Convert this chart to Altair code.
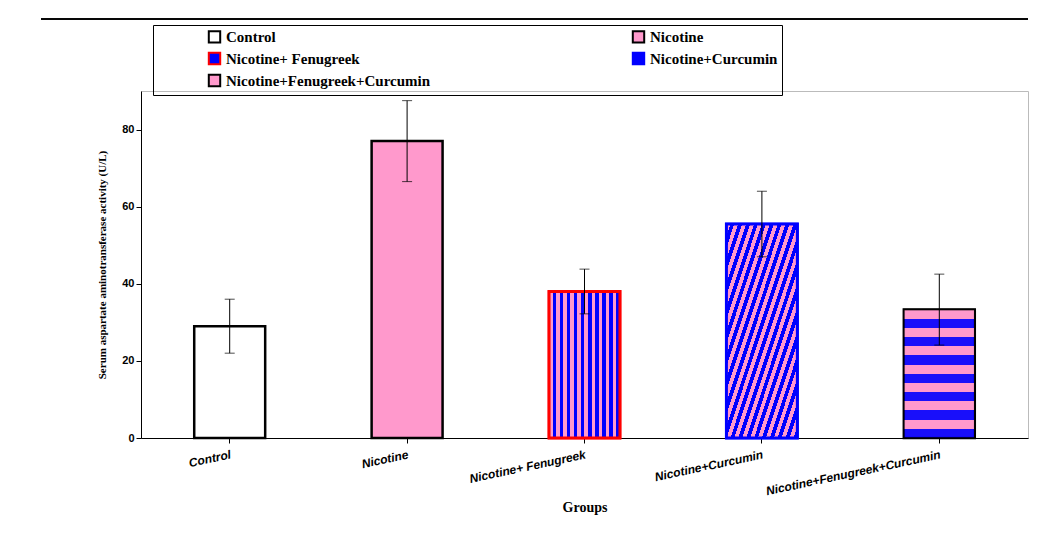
import altair as alt
import pandas as pd

groups = ["Control", "Nicotine", "Nicotine+ Fenugreek", "Nicotine+Curcumin", "Nicotine+Fenugreek+Curcumin"]
means = [29, 77, 38, 55.5, 33.3]
errors = [7, 10.5, 5.8, 8.5, 9.2]

df = pd.DataFrame({"Group": groups, "Mean": means, "Err": errors})
df["Low"] = df["Mean"] - df["Err"]
df["High"] = df["Mean"] + df["Err"]

PINK = "#ff99cc"
BLUE = "#0000ff"


def stripes(n, x2, y2):
    stops = []
    for i in range(n):
        c = PINK if i % 2 == 0 else BLUE
        stops.append({"offset": i / n, "color": c})
        stops.append({"offset": (i + 1) / n, "color": c})
    return alt.LinearGradient(gradient="linear", stops=stops, x1=0, y1=0, x2=x2, y2=y2)


x_enc = alt.X("Group:N", sort=groups, title="Groups",
              scale=alt.Scale(paddingInner=0.6, paddingOuter=0.3),
              axis=alt.Axis(labelAngle=-12, labelFont="Arial", labelFontWeight="bold",
                            labelFontStyle="italic", labelFontSize=12, labelColor="black",
                            titleFont="Times New Roman", titleFontSize=14, titleColor="black",
                            labelAlign="right", labelPadding=6, domainColor="black", tickColor="black"))
y_enc = alt.Y("Mean:Q", title="Serum aspartate aminotransferase activity (U/L)",
              scale=alt.Scale(domain=[0, 90]),
              axis=alt.Axis(values=list(range(0, 91, 10)), grid=False, labelFont="Arial",
                            labelFontWeight="bold", labelFontSize=11, labelColor="black",
                            labelOverlap=False,
                            titleFont="Times New Roman", titleFontSize=11, titleColor="black",
                            titlePadding=14, domainColor="black", tickColor="black"))

base = alt.Chart(df).mark_bar(strokeWidth=2.5).encode(
    x=x_enc, y=y_enc,
    color=alt.Color("Group:N", sort=groups, title=None,
                    scale=alt.Scale(domain=groups, range=["white", PINK, BLUE, BLUE, PINK]),
                    legend=alt.Legend(orient="none", legendX=12, legendY=-66, columns=2,
                                      direction="horizontal",
                                      columnPadding=150, symbolType="square", symbolSize=130,
                                      symbolStrokeWidth=2, labelFont="Times New Roman",
                                      labelFontWeight="bold", labelFontSize=15, labelColor="black",
                                      rowPadding=1, padding=4, strokeColor="black",
                                      symbolOffset=50, labelLimit=400)),
    stroke=alt.Stroke("Group:N", sort=groups,
                      scale=alt.Scale(domain=groups, range=["black", "black", "red", BLUE, "black"]),
                      legend=None),
)

fen = alt.Chart(df).transform_filter(alt.datum.Group == groups[2]).mark_bar(
    fill=stripes(20, 1, 0), stroke="red", strokeWidth=3).encode(x=x_enc, y=y_enc)
cur = alt.Chart(df).transform_filter(alt.datum.Group == groups[3]).mark_bar(
    fill=stripes(36, 1, 1), stroke=BLUE, strokeWidth=3).encode(x=x_enc, y=y_enc)
fc = alt.Chart(df).transform_filter(alt.datum.Group == groups[4]).mark_bar(
    fill=stripes(14, 0, 1), stroke="black", strokeWidth=1.5, fillOpacity=0.9).encode(x=x_enc, y=y_enc)

err = alt.Chart(df).mark_errorbar(ticks=alt.MarkConfig(size=10), color="black").encode(
    x=alt.X("Group:N", sort=groups),
    y=alt.Y("Low:Q", title="Serum aspartate aminotransferase activity (U/L)"),
    y2="High:Q",
)

topline = alt.Chart(df).mark_rule(color="black", strokeWidth=1).encode(
    x=alt.value(-100), x2=alt.value(887), y=alt.value(-72))

chart = alt.layer(base, fen, cur, fc, err, topline).properties(
    width=887, height=347, padding={"left": 32, "top": 10, "right": 10, "bottom": 5}
).configure_view(stroke="#bbbbbb")

chart.save("out.html", embed_options={"renderer": "svg", "actions": False})
